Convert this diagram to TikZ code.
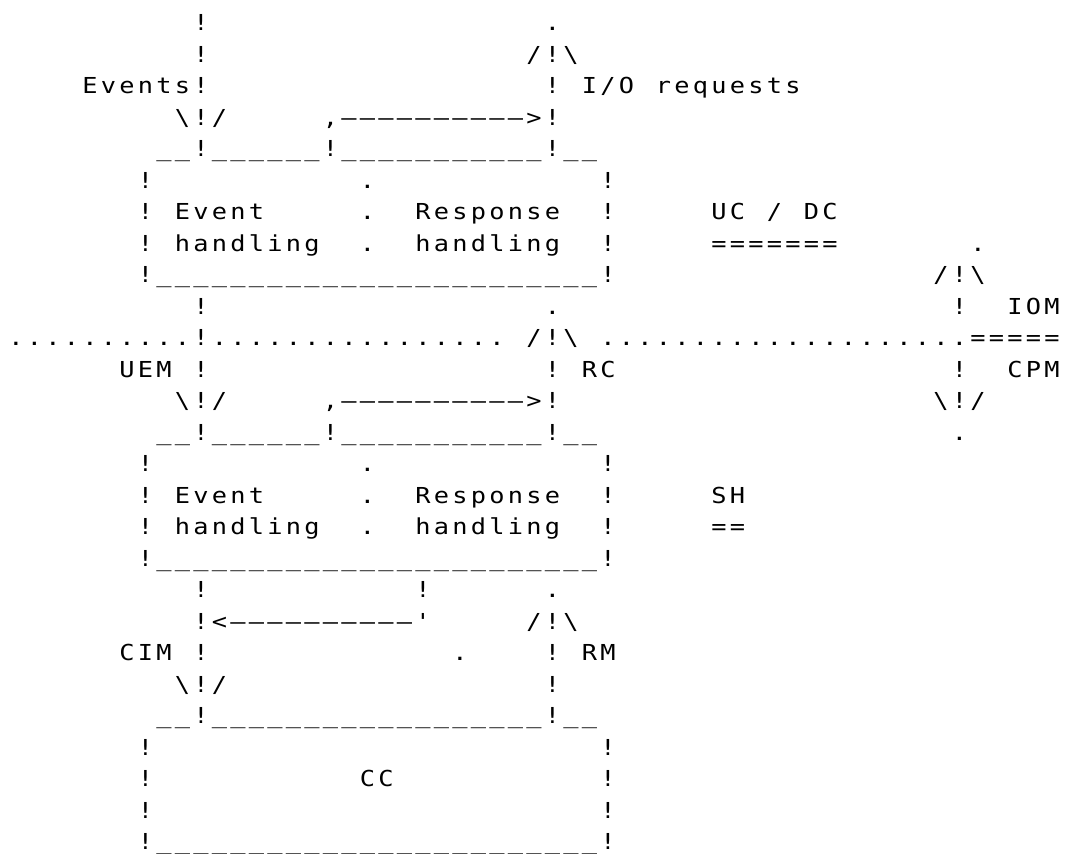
\documentclass[tikz,border=0pt]{standalone}
\usepackage{fontspec}
\newfontfamily\dotfont[FakeStretch=1.15]{DejaVu Sans Mono}

% one character cell of the printout
\tikzset{
  glyph/.style={inner sep=0pt, anchor=base, text=black,
    font=\dotfont\fontsize{22pt}{22pt}\selectfont},
}

% \asciirow{row}|text| places every character of a printed line on a fixed
% character grid (column pitch 18.5, line pitch 31.5); the printer's long
% dash is set with the full-cell dash glyph
\ExplSyntaxOn
\int_new:N \l_asc_col_int
\tl_new:N \l_asc_x_tl
\tl_new:N \l_asc_y_tl
\tl_new:N \l_asc_char_tl
\NewDocumentCommand \asciirow { m v }
  {
    \int_zero:N \l_asc_col_int
    \tl_set:Nx \l_asc_y_tl { \fp_eval:n { 30.5 + 31.5 * #1 } }
    \str_map_inline:nn {#2}
      {
        \str_if_eq:nnF {##1} {~}
          {
            \tl_set:Nx \l_asc_x_tl { \fp_eval:n { 16 + 18.5 * \l_asc_col_int } }
            \tl_set:Nn \l_asc_char_tl {##1}
            \str_if_eq:nnT {##1} {-}
              { \tl_set:Nn \l_asc_char_tl { \char"2013 \scan_stop: } }
            \node [glyph] (g-#1-\int_use:N \l_asc_col_int)
              at (\l_asc_x_tl, \l_asc_y_tl) {\l_asc_char_tl};
          }
        \int_incr:N \l_asc_col_int
      }
  }
\ExplSyntaxOff

\begin{document}
\begin{tikzpicture}[x=1pt, y=-1pt]
\fill[white] (0,0) rectangle (1071,854);
\useasboundingbox (0,0) rectangle (1071,854);

\asciirow{0}|          !                  .|
\asciirow{1}|          !                 /!\|
\asciirow{2}|    Events!                  ! I/O requests|
\asciirow{3}|         \!/     ,---------->!|
\asciirow{4}|        __!______!___________!__|
\asciirow{5}|       !           .            !|
\asciirow{6}|       ! Event     .  Response  !     UC / DC|
\asciirow{7}|       ! handling  .  handling  !     =======       .|
\asciirow{8}|       !________________________!                 /!\|
\asciirow{9}|          !                  .                     !  IOM|
\asciirow{10}|..........!................ /!\ ....................=====|
\asciirow{11}|      UEM !                  ! RC                  !  CPM|
\asciirow{12}|         \!/     ,---------->!                    \!/|
\asciirow{13}|        __!______!___________!__                   .|
\asciirow{14}|       !           .            !|
\asciirow{15}|       ! Event     .  Response  !     SH|
\asciirow{16}|       ! handling  .  handling  !     ==|
\asciirow{17}|       !________________________!|
\asciirow{18}|          !           !      .|
\asciirow{19}|          !<----------'     /!\|
\asciirow{20}|      CIM !             .    ! RM|
\asciirow{21}|         \!/                 !|
\asciirow{22}|        __!__________________!__|
\asciirow{23}|       !                        !|
\asciirow{24}|       !           CC           !|
\asciirow{25}|       !                        !|
\asciirow{26}|       !________________________!|
\end{tikzpicture}
\end{document}
